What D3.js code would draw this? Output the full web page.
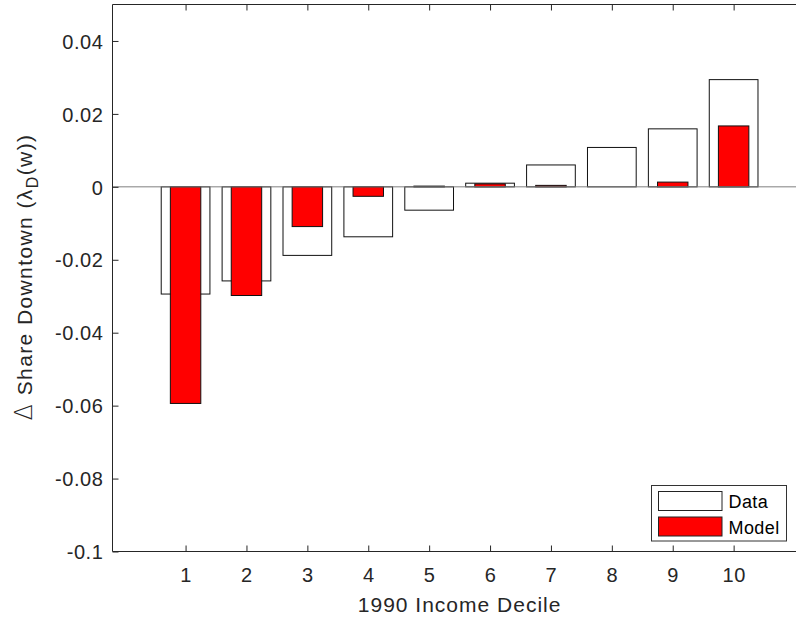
<!DOCTYPE html>
<html>
<head>
<meta charset="utf-8">
<script src="https://cdn.jsdelivr.net/npm/d3@7"></script>
<style>
  html, body { margin: 0; padding: 0; background: #fff; }
  svg { display: block; font-family: "Liberation Sans", Arial, Helvetica, sans-serif; }
</style>
</head>
<body>
<svg id="chart" width="796" height="620"></svg>
<script>
// Income deciles and change in downtown share
const deciles = [1, 2, 3, 4, 5, 6, 7, 8, 9, 10];
const dataShare = [-0.0294, -0.0258, -0.0188, -0.0137, -0.0064, 0.0010, 0.0060, 0.0108, 0.0159, 0.0294];
const modelShare = [-0.0594, -0.0298, -0.0109, -0.0026, 0.0002, 0.0008, 0.0004, 0.0000, 0.0013, 0.0167];
const yTicks = [-0.1, -0.08, -0.06, -0.04, -0.02, 0, 0.02, 0.04];
const yTickLabels = ["-0.1", "-0.08", "-0.06", "-0.04", "-0.02", "0", "0.02", "0.04"];
const legendLabels = ["Data", "Model"];

const ink = "#262626";
const svg = d3.select("#chart");

const plotLeft = 112.5, plotTop = 4.5, plotBottom = 551.5, plotRight = 806.7;
const x = d3.scaleLinear().domain([-0.2, 11.2]).range([plotLeft, plotRight]);
const y = d3.scaleLinear().domain([-0.1, 0.05]).range([plotBottom, plotTop]);
const dataW = x(0.8) - x(0);
const modelW = x(0.5) - x(0);

const plot = svg.append("g");

// Data bars (white, wide)
plot.selectAll("rect.data").data(deciles).join("rect")
  .attr("class", "data")
  .attr("x", (d) => x(d) - dataW / 2)
  .attr("width", dataW)
  .attr("y", (d, i) => y(Math.max(0, dataShare[i])))
  .attr("height", (d, i) => Math.abs(y(dataShare[i]) - y(0)))
  .attr("fill", "#fff")
  .attr("stroke", "#111")
  .attr("stroke-width", 1);

// Model bars (red, narrow)
plot.selectAll("rect.model").data(deciles).join("rect")
  .attr("class", "model")
  .attr("x", (d) => x(d) - modelW / 2)
  .attr("width", modelW)
  .attr("y", (d, i) => y(Math.max(0, modelShare[i])))
  .attr("height", (d, i) => Math.abs(y(modelShare[i]) - y(0)))
  .attr("fill", "#ff0000")
  .attr("stroke", "#111")
  .attr("stroke-width", 1);

// Baseline at zero
plot.append("line")
  .attr("x1", plotLeft).attr("x2", plotRight)
  .attr("y1", y(0)).attr("y2", y(0))
  .attr("stroke", "#7f7f7f").attr("stroke-width", 1);

// Axes box
const axes = svg.append("g");
axes.append("line").attr("x1", plotLeft).attr("x2", plotRight).attr("y1", plotBottom).attr("y2", plotBottom).attr("stroke", ink);
axes.append("line").attr("x1", plotLeft).attr("x2", plotRight).attr("y1", plotTop).attr("y2", plotTop).attr("stroke", ink);
axes.append("line").attr("x1", plotLeft).attr("x2", plotLeft).attr("y1", plotTop).attr("y2", plotBottom).attr("stroke", ink);

// Y ticks and labels
const yAxis = d3.axisLeft(y).tickValues(yTicks).tickSizeInner(-6).tickSizeOuter(0)
  .tickPadding(10).tickFormat((d, i) => yTickLabels[i]);
const gy = svg.append("g").attr("transform", `translate(${plotLeft},0)`).call(yAxis);
gy.select(".domain").remove();
gy.selectAll(".tick line").attr("stroke", ink);
gy.selectAll(".tick text").attr("fill", ink).attr("font-size", 20)
  .attr("letter-spacing", 0.6).attr("x", -9).attr("dy", "0.36em")
  .style("font-family", "'Liberation Sans', Arial, sans-serif");

// X ticks (bottom and top) and labels
const xAxis = d3.axisBottom(x).tickValues(deciles).tickSizeInner(-6).tickSizeOuter(0)
  .tickPadding(15).tickFormat(d3.format("d"));
const gx = svg.append("g").attr("transform", `translate(0,${plotBottom})`).call(xAxis);
gx.select(".domain").remove();
gx.selectAll(".tick line").attr("stroke", ink);
gx.selectAll(".tick text").attr("fill", ink).attr("font-size", 20)
  .attr("letter-spacing", 0.6).attr("y", 30.5).attr("dy", 0)
  .style("font-family", "'Liberation Sans', Arial, sans-serif");

const gxTop = svg.append("g").attr("transform", `translate(0,${plotTop})`)
  .call(d3.axisTop(x).tickValues(deciles).tickSizeInner(-6).tickSizeOuter(0).tickFormat(""));
gxTop.select(".domain").remove();
gxTop.selectAll(".tick line").attr("stroke", ink);

// Axis titles
svg.append("text")
  .attr("x", (plotLeft + plotRight) / 2).attr("y", 611.5)
  .attr("text-anchor", "middle")
  .attr("fill", ink).attr("font-size", 21).attr("letter-spacing", 1.0)
  .text("1990 Income Decile");

const yl = svg.append("text")
  .attr("transform", `translate(32, 277) rotate(-90)`)
  .attr("text-anchor", "middle")
  .attr("fill", ink).attr("font-size", 21).attr("letter-spacing", 1.4);
yl.append("tspan").attr("font-size", 24).attr("font-family", "'DejaVu Sans', sans-serif")
  .attr("font-weight", 200).text("\u0394");
yl.append("tspan").text("  Share Downtown (\u03bb");
yl.append("tspan").attr("font-size", 16).attr("dy", 6).text("D");
yl.append("tspan").attr("dy", -6).text("(w))");

// Legend
const lg = svg.append("g");
lg.append("rect").attr("x", 651.5).attr("y", 485.5).attr("width", 135).attr("height", 55.5)
  .attr("fill", "#fff").attr("stroke", "#333").attr("stroke-width", 1);
const swatchFill = ["#fff", "#ff0000"];
legendLabels.forEach((lab, i) => {
  const yy = 491.5 + i * 25.5;
  lg.append("rect").attr("x", 658.5).attr("y", yy).attr("width", 63.5).attr("height", 19)
    .attr("fill", swatchFill[i]).attr("stroke", "#222").attr("stroke-width", 1);
  lg.append("text").attr("x", 728.5).attr("y", yy + 16.5)
    .attr("fill", "#000").attr("font-size", 18).attr("letter-spacing", 0.4).text(lab);
});
</script>
</body>
</html>
